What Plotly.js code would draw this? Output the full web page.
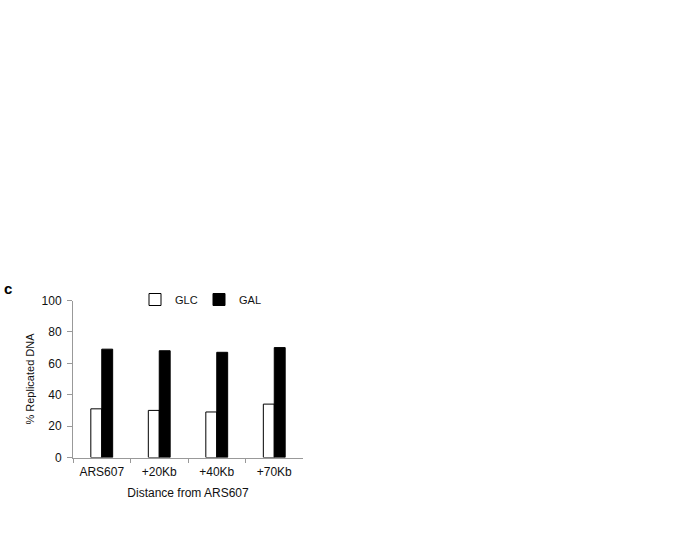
<!DOCTYPE html>
<html>
<head>
<meta charset="utf-8">
<script src="https://cdn.plot.ly/plotly-3.0.1.min.js"></script>
<style>html,body{margin:0;padding:0;background:#fff;}#chart{width:685px;height:553px;}</style>
</head>
<body>
<div id="chart"></div>
<script>
const categories = ["ARS607", "+20Kb", "+40Kb", "+70Kb"];
const glcValues = [31, 30, 29, 34];
const galValues = [69, 68, 67, 70];
const yTicks = [0, 20, 40, 60, 80, 100];

const W = 685, H = 553;
const px = v => v / W;
const py = v => 1 - v / H;

const traces = [
  {type: "bar", name: "GLC", x: categories, y: glcValues,
   marker: {color: "#ffffff", line: {color: "#000000", width: 1}}},
  {type: "bar", name: "GAL", x: categories, y: galValues,
   marker: {color: "#000000", line: {color: "#000000", width: 1}}}
];

const font = "Liberation Sans, Arial, Helvetica, sans-serif";
const layout = {
  width: W, height: H,
  margin: {l: 0, r: 0, t: 0, b: 0},
  paper_bgcolor: "#ffffff", plot_bgcolor: "#ffffff",
  font: {family: font, size: 12, color: "#111"},
  barmode: "group", bargap: 0.62, bargroupgap: 0,
  showlegend: true,
  legend: {orientation: "h", x: px(135), y: py(285), xanchor: "left", yanchor: "top",
           font: {size: 11, color: "#111"}, bgcolor: "rgba(0,0,0,0)", itemclick: false,
           entrywidth: 19, tracegroupgap: 0},
  xaxis: {domain: [px(73), px(303)], range: [-0.5, 3.5], type: "category",
          showline: true, linecolor: "#999", linewidth: 1,
          ticks: "outside", tickson: "boundaries", ticklen: 4, tickcolor: "#999",
          ticklabelstandoff: 3,
          tickfont: {size: 12, color: "#111"}, showgrid: false, zeroline: false,
          title: {text: "Distance from ARS607", font: {size: 12, color: "#111"}, standoff: 10}},
  yaxis: {domain: [1 - 457.5 / H, 1 - 300.5 / H], range: [0, 100],
          tickvals: yTicks, ticks: "outside", ticklen: 5, tickcolor: "#999",
          showline: true, linecolor: "#999", linewidth: 1, ticklabelstandoff: 3,
          tickfont: {size: 12, color: "#111"}, showgrid: false, zeroline: false,
          title: {text: "% Replicated DNA", font: {size: 11, color: "#111"}, standoff: 4}},
  annotations: [
    {text: "<b>c</b>", xref: "paper", yref: "paper", x: px(8), y: py(288),
     xanchor: "center", yanchor: "middle", showarrow: false, font: {size: 15, color: "#000"}}
  ]
};

Plotly.newPlot("chart", traces, layout, {displayModeBar: false, staticPlot: true});
</script>
</body>
</html>
